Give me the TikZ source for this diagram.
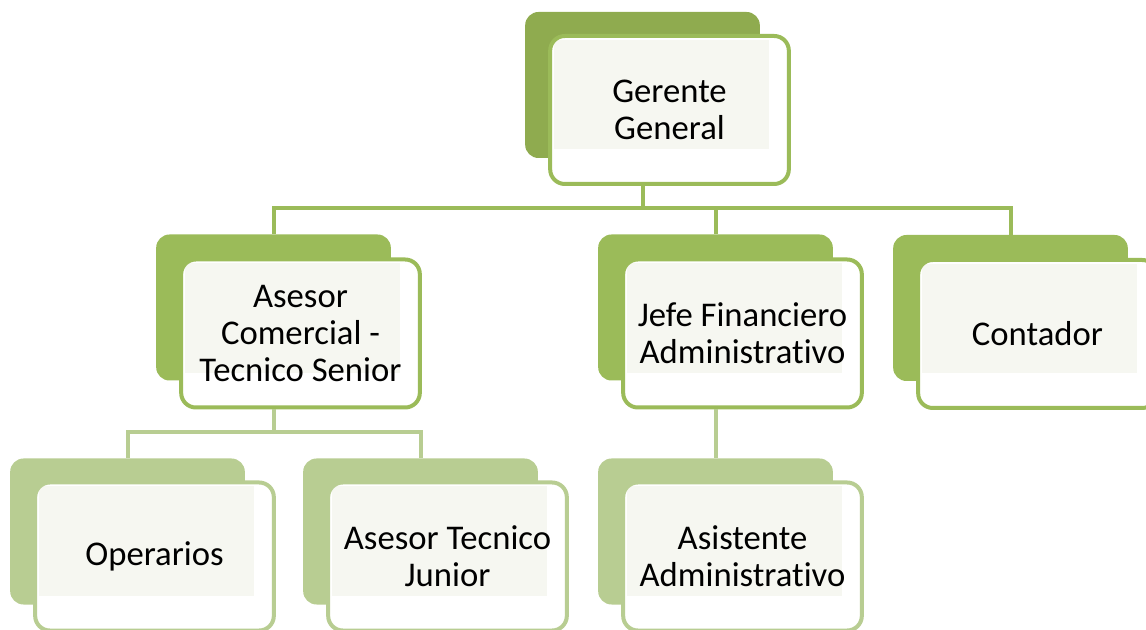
\documentclass[tikz,border=0pt]{standalone}
\usepackage{fontspec}
\setmainfont{Carlito}[Ligatures=NoCommon]
\usetikzlibrary{positioning}
\definecolor{oliveA}{HTML}{8FAB4F}
\definecolor{oliveB}{HTML}{9BBB59}
\definecolor{oliveC}{HTML}{B8CD92}
\definecolor{paper}{HTML}{F6F7F1}

\begin{document}
\begin{tikzpicture}[x=0.75pt,y=-0.75pt,
  back/.style = {fill=#1, rounded corners=10pt, minimum width=176pt, minimum height=109.5pt, inner sep=0pt},
  front/.style = {draw=#1, line width=3pt, fill=white, rounded corners=11pt,
    minimum width=179pt, minimum height=111pt, align=center,
    font=\fontsize{26}{28}\selectfont,
    path picture={\fill[paper, sharp corners] ([shift={(3pt,-3pt)}]path picture bounding box.north west)
      rectangle ([shift={(-15pt,26pt)}]path picture bounding box.south east);}},
  link/.style = {draw=#1, line width=3pt}
]
\clip (0,0) rectangle (1146,630);
\useasboundingbox (0,0) rectangle (1146,630);

% level 1
\node[back=oliveA] (gerenteback) at (642.5,85) {};
\node[front=oliveB] (gerente) at ([shift={(27,25)}]gerenteback) {Gerente\\General};

% level 2
\node[back=oliveB] (asesorback) at (273.5,307.5) {};
\node[front=oliveB] (asesor) at ([shift={(27,26)}]asesorback) {Asesor\\Comercial -\\Tecnico Senior};
\node[back=oliveB] (jefeback) at (715.5,307.5) {};
\node[front=oliveB] (jefe) at ([shift={(27,26)}]jefeback) {Jefe Financiero\\Administrativo};
\node[back=oliveB] (contadorback) at (1010.5,308) {};
\node[front=oliveB] (contador) at ([shift={(27,26)}]contadorback) {Contador};

% level 3
\node[back=oliveC] (operariosback) at (127.5,531.5) {};
\node[front=oliveC] (operarios) at ([shift={(27,25)}]operariosback) {Operarios};
\node[back=oliveC] (juniorback) at (420.5,531.5) {};
\node[front=oliveC] (junior) at ([shift={(27,25)}]juniorback) {Asesor Tecnico\\Junior};
\node[back=oliveC] (asistenteback) at (715.5,531.5) {};
\node[front=oliveC] (asistente) at ([shift={(27,25)}]asistenteback) {Asistente\\Administrativo};

% connectors
\draw[link=oliveB] (gerenteback |- gerente.south) -- ++(0,22) coordinate (hubA);
\draw[link=oliveB] (asesorback.north) |- (hubA) -| (contadorback.north);
\draw[link=oliveB] (hubA -| jefeback) -- (jefeback.north);
\draw[link=oliveC] (asesorback |- asesor.south) -- ++(0,23) coordinate (hubB);
\draw[link=oliveC] (operariosback.north) |- (hubB) -| (juniorback.north);
\draw[link=oliveC] (jefeback |- jefe.south) -- (asistenteback.north);
\end{tikzpicture}
\end{document}
